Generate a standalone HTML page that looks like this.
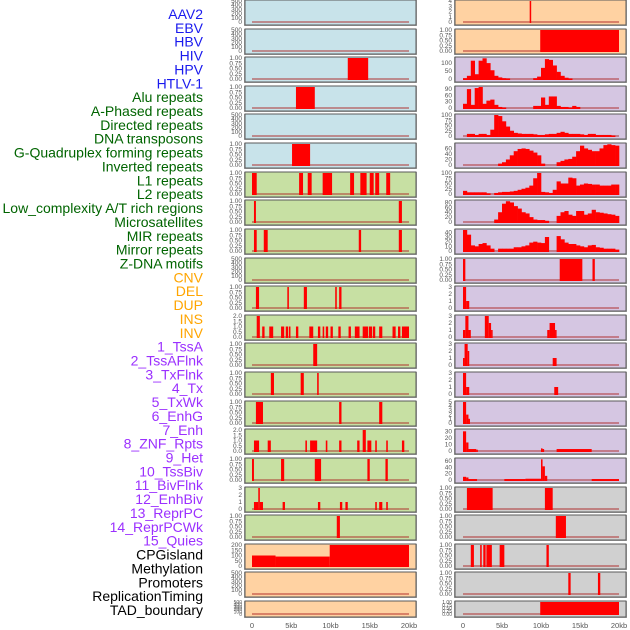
<!DOCTYPE html>
<html><head><meta charset="utf-8"><style>
html,body{margin:0;padding:0;background:#fff;}
svg{display:block;font-family:"Liberation Sans",sans-serif;}
</style></head><body>
<svg id="chart" width="630" height="630" viewBox="0 0 630 630" xmlns="http://www.w3.org/2000/svg"></svg>
<script>
// ---- labels ----
const trackLabels = ["AAV2","EBV","HBV","HIV","HPV","HTLV-1","Alu repeats","A-Phased repeats","Directed repeats","DNA transposons","G-Quadruplex forming repeats","Inverted repeats","L1 repeats","L2 repeats","Low_complexity A/T rich regions","Microsatellites","MIR repeats","Mirror repeats","Z-DNA motifs","CNV","DEL","DUP","INS","INV","1_TssA","2_TssAFlnk","3_TxFlnk","4_Tx","5_TxWk","6_EnhG","7_Enh","8_ZNF_Rpts","9_Het","10_TssBiv","11_BivFlnk","12_EnhBiv","13_ReprPC","14_ReprPCWk","15_Quies","CPGisland","Methylation","Promoters","ReplicationTiming","TAD_boundary"];
const labelGroups = ["virus","virus","virus","virus","virus","virus","rep","rep","rep","rep","rep","rep","rep","rep","rep","rep","rep","rep","rep","sv","sv","sv","sv","sv","hmm","hmm","hmm","hmm","hmm","hmm","hmm","hmm","hmm","hmm","hmm","hmm","hmm","hmm","hmm","oth","oth","oth","oth","oth"];
const xTickValues = [0,5,10,15,20];
const xTickLabels = ["0","5kb","10kb","15kb","20kb"];

// ---- segment data [startKb, endKb, value] ----
const aav2Segs = [];
const ebvSegs = [];
const hbvSegs = [[12.2,14.8,1]];
const hivSegs = [[5.6,8.0,1]];
const hpvSegs = [];
const htlvSegs = [[5.1,7.4,1]];
const aluSegs = [[0,0.6,1],[6.0,6.5,1],[7.1,7.6,1],[9.0,10.2,1],[12.5,13.0,1],[13.8,14.6,1],[15.0,15.5,1],[15.7,16.2,1],[17.1,17.6,1]];
const aphasedSegs = [[0.25,0.5,1],[18.7,19.1,1]];
const directedSegs = [[0.25,0.6,1],[1.5,2.0,1],[13.6,13.9,1],[18.7,19.1,1]];
const dnaTransSegs = [];
const gquadSegs = [[0.5,0.9,1],[4.5,4.7,1],[6.6,7.0,1],[10.6,10.8,1],[11.1,11.4,1]];
const invertedSegs = [[0.6,1.0,2],[1.3,1.6,1],[2.2,2.7,1],[3.7,4.1,1],[4.3,4.6,1],[4.7,4.9,1],[5.6,5.9,1],[7.3,7.8,1],[8.4,8.7,1],[9.0,9.2,1],[9.4,9.7,1],[10.0,10.3,1],[11.0,11.3,1],[12.3,12.6,1],[13.1,13.7,1],[14.1,14.8,1],[14.9,15.3,1],[15.4,15.7,1],[16.2,16.6,1],[17.9,18.3,1],[18.6,18.9,1],[19.1,20.0,1]];
const l1Segs = [[7.8,8.3,1]];
const l2Segs = [[2.4,2.8,1],[6.2,6.6,1],[8.3,8.5,1]];
const lowCompSegs = [[0.5,1.4,1],[11.1,11.4,1],[16.2,16.6,1]];
const microSegs = [[0.25,0.9,1],[2.0,2.4,1],[6.8,7.0,1],[7.4,8.3,1],[9.4,9.6,1],[11.1,11.4,1],[13.4,13.7,1],[14.1,14.5,2],[14.7,15.2,1],[15.7,15.9,1],[17.1,17.3,1],[19.1,19.4,1]];
const mirSegs = [[0,0.25,1],[3.7,4.1,1],[8.0,8.8,1],[14.7,15.0,1],[17.0,17.3,1]];
const mirrorSegs = [[0.25,0.8,1],[0.8,1.0,3],[1.0,1.4,1],[3.9,4.2,1],[8.4,8.7,1],[11.2,11.5,1],[11.9,12.2,1],[15.7,15.9,1],[16.2,16.6,1],[17.1,17.3,1]];
const zdnaSegs = [[10.8,11.2,1]];
const cnvSegs = [[0,3.0,100],[3.0,9.9,90],[9.9,20,200]];
const delSegs = [];
const dupSegs = [];
const insSegs = [[8.55,8.7,4]];
const invSegs = [[9.9,20,1]];
const znfSegs = [[0,0.3,1],[12.4,15.3,1],[16.6,16.9,1]];
const hetSegs = [[0,0.4,3],[0.4,0.8,1]];
const tssBivSegs = [[0,0.3,1],[0.3,0.7,3],[0.7,1.0,1],[2.8,3.3,3],[3.3,3.6,2],[3.6,3.8,1],[10.8,11.1,1],[11.1,11.8,2],[11.8,12.0,1]];
const bivFlnkSegs = [[0,0.2,1],[0.2,0.6,3],[0.6,0.8,2],[11.5,12.0,1]];
const enhBivSegs = [[0,0.4,3],[0.4,0.8,1],[11.7,12.2,1]];
const reprPCSegs = [[0,0.4,5],[0.4,0.7,2],[0.7,0.8,1]];
const reprPCWkSegs = [[0,0.4,30],[0.4,0.7,13],[0.7,1.7,3],[1.7,1.9,2],[10.0,10.2,4],[10.2,10.4,3],[12.0,16.5,3]];
const quiesSegs = [[0,0.4,10],[0.4,0.7,8],[0.7,1.8,3],[5.3,8.0,3],[8.0,10.0,4],[10.0,10.2,65],[10.2,10.5,43],[10.5,10.8,13],[16.5,20,3]];
const cpgSegs = [[0.5,3.8,1],[10.5,11.5,1]];
const methSegs = [[11.9,13.2,1]];
const promSegs = [[1.0,1.4,1],[2.2,2.4,1],[2.6,2.9,1],[3.0,3.7,1],[4.7,5.3,1],[10.7,11.0,1]];
const repTimeSegs = [[13.5,13.8,1],[17.3,17.6,1]];
const tadSegs = [[9.9,20,1]];

// ---- profile data (0.5kb bins, 40 bins) ----
const tssAProfile = [5,20,115,30,115,130,100,55,20,10,5,3,0,0,0,0,0,0,5,15,70,125,120,85,45,20,8,3,0,0,0,0,0,0,0,0,0,0,0,0];
const tssAFlnkProfile = [20,90,15,95,100,20,35,40,15,5,2,0,0,0,0,0,0,0,10,10,50,15,55,55,10,5,5,2,10,5,0,0,0,0,0,0,0,0,0,0];
const txFlnkProfile = [0,10,10,5,10,10,5,30,100,95,70,45,25,15,12,10,10,10,8,5,5,8,10,10,15,20,15,10,10,10,8,5,10,10,5,5,5,5,2,0];
const txProfile = [0,0,0,0,0,0,0,0,0,5,10,20,35,50,58,60,58,52,45,35,5,0,0,0,10,15,20,22,30,50,70,60,55,50,50,60,72,75,72,70];
const txWkProfile = [15,8,8,8,8,8,3,0,5,8,10,10,12,15,20,25,30,40,75,100,10,8,5,20,60,50,50,78,75,40,45,50,48,45,45,40,40,40,45,45];
const enhGProfile = [0,0,0,0,0,0,0,0,10,40,75,85,80,65,55,40,35,20,10,8,8,5,0,0,25,40,45,30,25,45,45,30,35,50,40,38,35,32,30,25];
const enhProfile = [45,35,12,10,15,17,12,5,0,5,5,5,5,8,8,10,12,18,20,18,17,30,0,0,32,25,18,15,15,12,10,8,12,13,8,7,5,5,5,3];

// ---- track definitions ----
function T(data,kind,bg,ticks,dec,ymax){return {data:data,kind:kind,bg:bg,ticks:ticks,dec:dec,ymax:ymax};}
const B="#c8e3ea",G="#c7e0a3",O="#ffd2a2",P="#d5c6e2",Y="#d0d0d0";
const t500=[0,100,200,300,400,500], t1=[0,0.25,0.5,0.75,1];
const leftTracks = [
 T(aav2Segs,"seg",B,t500,0,500),T(ebvSegs,"seg",B,t500,0,500),T(hbvSegs,"seg",B,t1,2,1),T(hivSegs,"seg",B,t1,2,1),T(hpvSegs,"seg",B,t500,0,500),T(htlvSegs,"seg",B,t1,2,1),
 T(aluSegs,"seg",G,t1,2,1),T(aphasedSegs,"seg",G,t1,2,1),T(directedSegs,"seg",G,t1,2,1),T(dnaTransSegs,"seg",G,t500,0,500),T(gquadSegs,"seg",G,t1,2,1),
 T(invertedSegs,"seg",G,[0,0.5,1,1.5,2],1,2),T(l1Segs,"seg",G,t1,2,1),T(l2Segs,"seg",G,t1,2,1),T(lowCompSegs,"seg",G,t1,2,1),T(microSegs,"seg",G,[0,0.5,1,1.5,2],1,2),
 T(mirSegs,"seg",G,t1,2,1),T(mirrorSegs,"seg",G,[0,1,2,3],0,3),T(zdnaSegs,"seg",G,t1,2,1),
 T(cnvSegs,"seg",O,[0,50,100,150,200],0,200),T(delSegs,"seg",O,t500,0,500),T(dupSegs,"seg",O,t500,0,500)
];
const rightTracks = [
 T(insSegs,"seg",O,[0,1,2,3,4],0,4),T(invSegs,"seg",O,t1,2,1),
 T(tssAProfile,"prof",P,[0,50,100],0,132),T(tssAFlnkProfile,"prof",P,[0,30,60,90],0,100),T(txFlnkProfile,"prof",P,[0,25,50,75,100],0,100),
 T(txProfile,"prof",P,[0,20,40,60],0,76),T(txWkProfile,"prof",P,[0,25,50,75,100],0,100),T(enhGProfile,"prof",P,[0,20,40,60,80],0,86),
 T(enhProfile,"prof",P,[0,10,20,30,40],0,45),T(znfSegs,"seg",P,t1,2,1),T(hetSegs,"seg",P,[0,1,2,3],0,3),T(tssBivSegs,"seg",P,[0,1,2,3],0,3),
 T(bivFlnkSegs,"seg",P,[0,1,2,3],0,3),T(enhBivSegs,"seg",P,[0,1,2,3],0,3),T(reprPCSegs,"seg",P,[0,1,2,3,4,5],0,5),T(reprPCWkSegs,"seg",P,[0,10,20,30],0,32),
 T(quiesSegs,"seg",P,[0,20,40,60],0,66),
 T(cpgSegs,"seg",Y,t1,2,1),T(methSegs,"seg",Y,t1,2,1),T(promSegs,"seg",Y,t1,2,1),T(repTimeSegs,"seg",Y,t1,2,1),T(tadSegs,"seg",Y,t1,2,1)
];

const NS="http://www.w3.org/2000/svg";
const svg=document.getElementById("chart");
function mk(tag,attrs,parent){const e=document.createElementNS(NS,tag);for(const k in attrs)e.setAttribute(k,attrs[k]);(parent||svg).appendChild(e);return e;}
const labelColor={virus:"#1a1aee",rep:"#006400",sv:"#ffa500",hmm:"#9b30ff",oth:"#000000"};

// labels
trackLabels.forEach((lab,i)=>{
  const t=mk("text",{x:203,y:19+i*13.86,"text-anchor":"end","font-size":"14",fill:labelColor[labelGroups[i]]});
  
  
  t.textContent=lab;
});

function xScale(col,kb){return col? 463+kb*7.8 : 252+kb*7.85;}
function drawCol(tracks,col){
  const bx=col?455:245, bw=171, tickX=col?452:242;
  tracks.forEach((tr,i)=>{
    const top=Math.round(i*28.62), H=(i===21)?16:25;
    const y0=top+H-3, span=H-4;
    const yScale=v=>y0-v/tr.ymax*span;
    const g=mk("g",{});
    
    
    mk("rect",{x:bx-0.5,y:top+0.5,width:bw+1,height:H,fill:"none",stroke:"#a8a8a8","stroke-width":1},g);
    mk("rect",{x:bx,y:top,width:bw,height:H,fill:tr.bg,stroke:"#5a5a5a","stroke-width":1},g);
    mk("rect",{x:xScale(col,0),y:y0-1,width:xScale(col,20)-xScale(col,0),height:2,fill:"rgba(170,30,30,0.45)"},g);
    tr.ticks.forEach(v=>{
      const t=mk("text",{x:tickX,y:yScale(v)+2,"text-anchor":"end","font-size":(H<20?"5":"6.5"),fill:"#555"},g);
      
      
      t.textContent=v.toFixed(tr.dec);
    });
    if(tr.kind==="seg"){
      tr.data.forEach(s=>{
        const x1=xScale(col,s[0]),x2=xScale(col,s[1]);
        const r=mk("rect",{x:x1,y:yScale(s[2]),width:Math.max(1.5,x2-x1),height:y0-yScale(s[2])+1,fill:"#ff0000"},g);
        
        
      });
    } else {
      tr.data.forEach((v,b)=>{
        if(v<=0)return;
        const x1=xScale(col,b*0.5),x2=xScale(col,(b+1)*0.5);
        const r=mk("rect",{x:x1,y:yScale(v),width:x2-x1+0.3,height:y0-yScale(v)+1,fill:"#ff0000"},g);
        
        
      });
    }
  });
  xTickValues.forEach((v,k)=>{
    const t=mk("text",{x:xScale(col,v),y:628,"text-anchor":"middle","font-size":"7.5",fill:"#555"});
    
    
    t.textContent=xTickLabels[k];
  });
}
drawCol(leftTracks,0);
drawCol(rightTracks,1);
</script>
</body></html>
